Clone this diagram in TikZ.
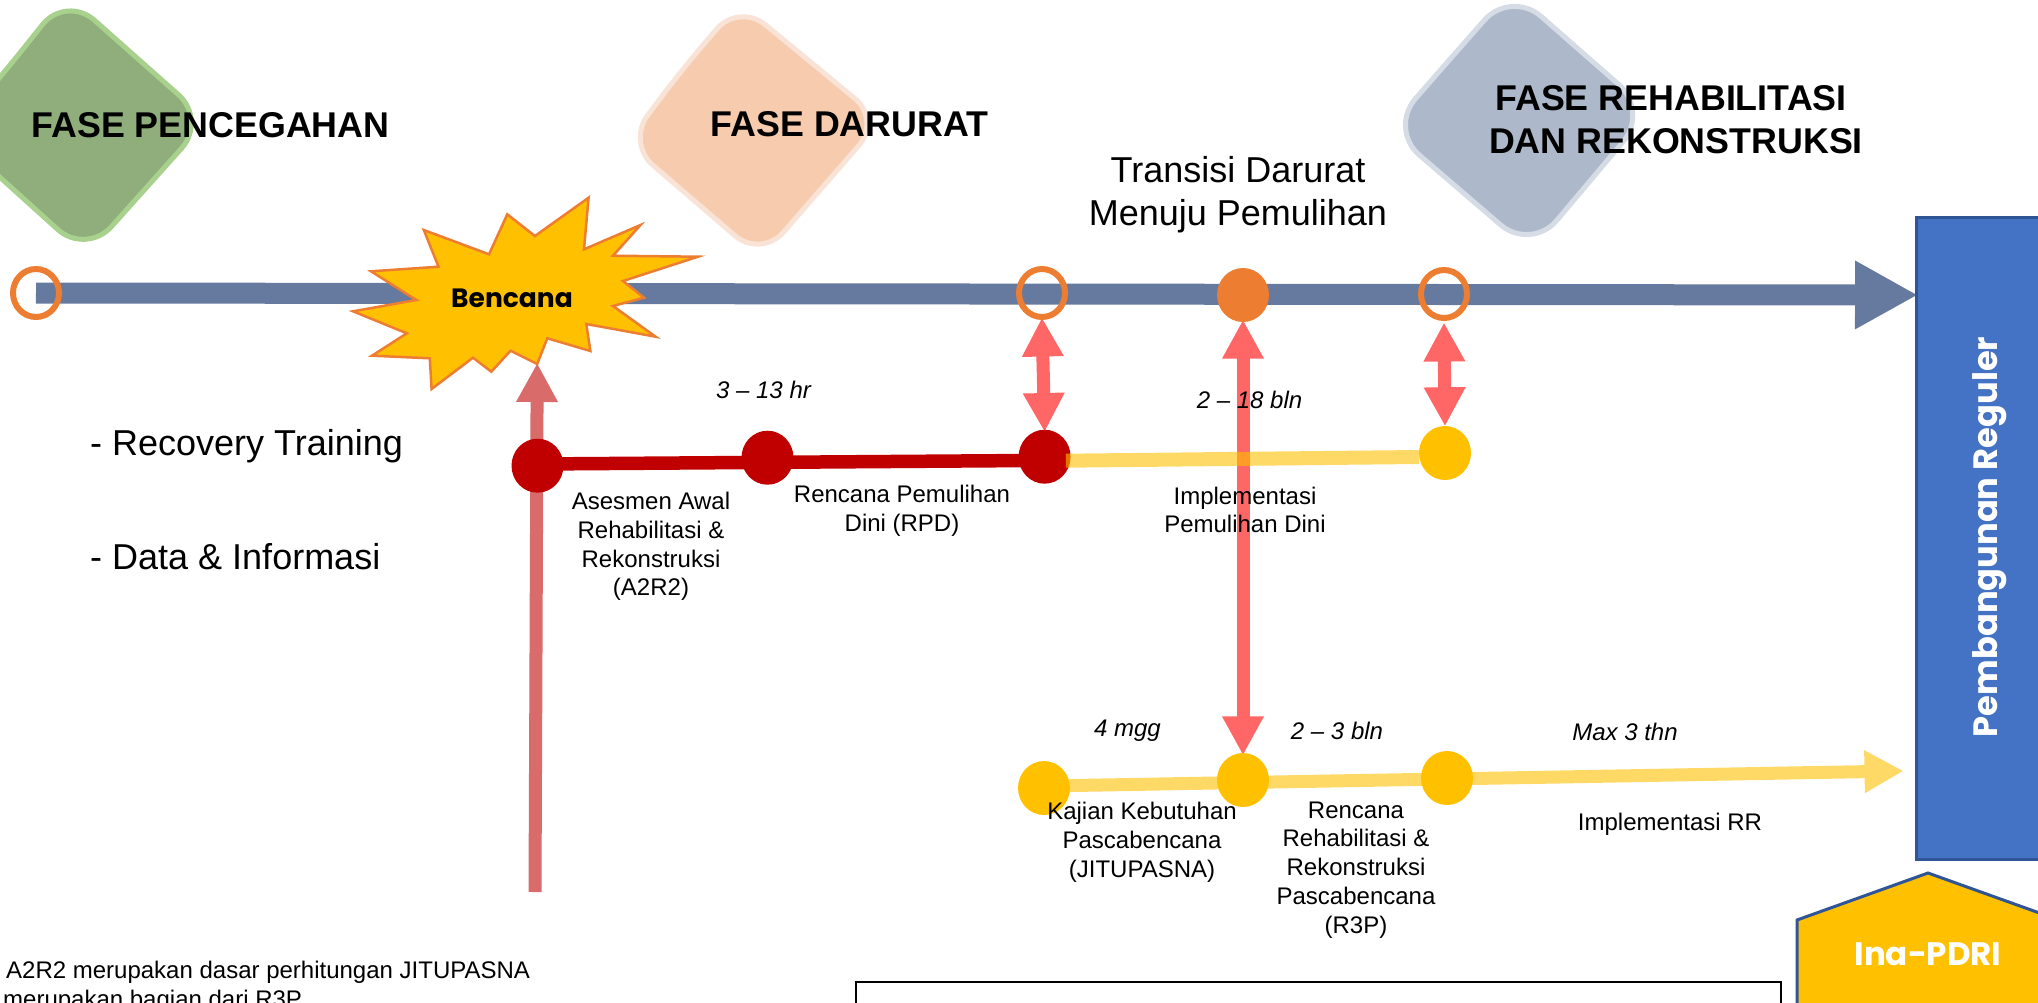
\documentclass[tikz,border=0pt]{standalone}
\usepackage{fontspec}
\setmainfont{Liberation Sans}
\newfontfamily\gothicfont{Poppins}
\usetikzlibrary{arrows.meta,shapes.geometric}
\definecolor{axisblue}{HTML}{667A9F}
\definecolor{ringorange}{HTML}{ED7D31}
\definecolor{darkred}{HTML}{C00000}
\definecolor{gold}{HTML}{FFC000}
\definecolor{softgold}{HTML}{FFD966}
\definecolor{softred}{HTML}{FF6666}
\definecolor{dullred}{HTML}{D96B6B}
\definecolor{boxblue}{HTML}{4472C4}
\definecolor{edgeblue}{HTML}{2F5597}
\definecolor{greenfill}{HTML}{8FAE7C}
\definecolor{greenedge}{HTML}{A9D18E}
\definecolor{peachfill}{HTML}{F6CBAE}
\definecolor{peachedge}{HTML}{F9E3D6}
\definecolor{slatefill}{HTML}{ADB9CA}
\definecolor{slateedge}{HTML}{D6DCE5}
\pgfdeclarelayer{back}
\pgfdeclarelayer{low}
\pgfdeclarelayer{mid}
\pgfsetlayers{back,low,mid,main}
\tikzset{
  phase/.style={line width=5pt,rounded corners=38pt,line join=round},
  ringnode/.style={ellipse,draw=ringorange,line width=6pt,minimum width=46pt,minimum height=48pt,inner sep=0pt},
  dotnode/.style={ellipse,minimum width=52pt,minimum height=54pt,inner sep=0pt},
  body/.style={font=\fontsize{24}{28.8}\selectfont,align=center,inner sep=0pt},
  timing/.style={font=\fontsize{24}{28.8}\selectfont\itshape,inner sep=0pt},
  title/.style={font=\fontsize{35.8}{43}\selectfont\bfseries,align=center,inner sep=0pt},
  big/.style={font=\fontsize{36}{43}\selectfont,align=center,inner sep=0pt},
  fatdouble/.style={softred,line width=13pt,shorten <=-2.5pt,shorten >=-2.5pt,{Triangle[width=39pt,length=39pt]}-{Triangle[width=39pt,length=39pt]}},
}
\begin{document}
\begin{tikzpicture}[x=1pt,y=-1pt]
\useasboundingbox (0,0) rectangle (2038,1002);
\begin{pgfonlayer}{low}
\node[ringnode] (r1) at (36,293) {};
\node[ringnode] (r2) at (1042,293) {};
\node[dotnode,fill=ringorange] (o1) at (1243,295) {};
\node[ringnode] (r3) at (1444,294) {};
\node[dotnode,fill=darkred] (a1) at (537.5,465.7) {};
\node[dotnode,fill=darkred] (a2) at (767.5,457.7) {};
\node[dotnode,fill=darkred] (a3) at (1044.6,456.7) {};
\end{pgfonlayer}
\node[dotnode,fill=gold] (a4) at (1445,453) {};
\node[dotnode,fill=gold] (b1) at (1044,788) {};
\node[dotnode,fill=gold] (b2) at (1243,780) {};
\node[dotnode,fill=gold] (b3) at (1447,778) {};
\coordinate (axisEnd) at (1916,295);
\coordinate (bEnd) at (1902,771);
\coordinate (starTip) at (537.2,364);
\coordinate (upStart) at (535,892);
\begin{pgfonlayer}{back}
\draw[phase,fill=greenfill,draw=greenedge]
  (8,68) -- (66,-5) -- (207,120) -- (86,255) -- (-48,134) -- cycle;
\draw[phase,rounded corners=34pt,fill=peachfill,draw=peachedge]
  (680,72) -- (739,3) -- (881,120) -- (761,258) -- (627,143) -- cycle;
\draw[phase,rounded corners=40pt,fill=slatefill,draw=slateedge]
  (1450,59) -- (1511,-10) -- (1649,111) -- (1531,251) -- (1389,129) -- cycle;
\draw[axisblue,line width=21pt,shorten >=-2pt,-{Triangle[width=64pt,length=63pt]}] (r1.center) -- (axisEnd);
\draw[ringorange,fill=gold,line width=2.5pt]
  (588.6,197.7) -- (584,249.3) -- (640.5,225) -- (613,255.7) -- (698,256.7) -- (623,281) -- (644,297.7) -- (613,306)
  -- (655.6,336.7) -- (586.3,324) -- (590.4,351) -- (547.3,338.3) -- (537.2,364) -- (510.6,350.7) -- (491.3,371.7)
  -- (473,357.7) -- (431.6,389) -- (429.8,358.3) -- (372,355.7) -- (406.8,333.3) -- (353,311.3) -- (416.4,300)
  -- (371,271.3) -- (438.5,266.7) -- (423.8,230) -- (489,254.3) -- (507.3,214.3) -- (534.9,236) -- cycle;
\draw[dullred,line width=13pt,shorten >=-1pt,-{Triangle[width=39pt,length=39pt]}] (upStart) -- (starTip);
\draw[fatdouble] (r2.south) -- (a3.north);
\draw[fatdouble] ([yshift=-4pt]r3.south) -- ([yshift=2pt]a4.north);
\draw[fatdouble] (o1.south) -- (b2.north);
\draw[darkred,line width=13.5pt] ([yshift=1.7pt]a1.center) -- ([yshift=-3.7pt]a3.center);
\draw[softgold,line width=13pt,shorten >=-1.5pt,-{Triangle[width=40pt,length=39pt]}] ([yshift=2pt]b1.center) -- (bEnd);
\end{pgfonlayer}
\begin{pgfonlayer}{mid}
\draw[gold,opacity=0.6,line width=14pt] ([xshift=-5pt,yshift=-4pt]a3.east) -- ([yshift=-4pt]a4.west);
\end{pgfonlayer}
\node[rectangle,draw=edgeblue,fill=boxblue,line width=3pt,minimum width=200pt,minimum height=642pt,inner sep=0pt] (regbox) at (2016,538) {};
\draw[edgeblue,fill=gold,line width=3pt] (1797,1040) -- (1797,920) -- (1928,873) -- (2059,920) -- (2059,1040) -- cycle;
\draw[black,line width=2pt] (856,1040) -- (856,982) -- (1781,982) -- (1781,1040);
\node[title] (t1) at (210.5,125) {FASE PENCEGAHAN};
\node[title] (t2) at (849.5,124) {FASE DARURAT};
\node[title] (t3) at (1671,119.5) {FASE REHABILITASI\\\ DAN REKONSTRUKSI};
\node[big] (trans) at (1238,194.5) {Transisi Darurat\\Menuju Pemulihan};
\node[font=\gothicfont\bfseries\fontsize{26.5}{30}\selectfont,inner sep=0pt] (benc) at (512,298) {Bencana};
\node[big,anchor=base west] (rec) at (90,455) {- Recovery Training};
\node[big,anchor=base west] (data) at (90,569) {- Data \& Informasi};
\node[timing] (l1) at (763.5,390) {3 – 13 hr};
\node[timing] (l2) at (1249.5,400) {2 – 18 bln};
\node[timing] (l3) at (1127.5,731) {4 mgg};
\node[timing] (l4) at (1337,731) {2 – 3 bln};
\node[timing] (l5) at (1625,732) {Max 3 thn};
\node[body] (x1) at (651,546.5) {Asesmen Awal\\Rehabilitasi \&\\Rekonstruksi\\(A2R2)};
\node[body] (x2) at (902,511) {Rencana Pemulihan\\Dini (RPD)};
\node[body] (x3) at (1245,510) {Implementasi\\Pemulihan Dini};
\node[body] (x4) at (1142,842) {Kajian Kebutuhan\\Pascabencana\\(JITUPASNA)};
\node[body] (x5) at (1356,870) {Rencana\\Rehabilitasi \&\\Rekonstruksi\\Pascabencana\\(R3P)};
\node[body] (x6) at (1670,824) {Implementasi RR};
\node[body,anchor=base west] (n1) at (6,978) {A2R2 merupakan dasar perhitungan JITUPASNA};
\node[body,anchor=base west] (n2) at (3,1007) {merupakan bagian dari R3P};
\node[font=\gothicfont\bfseries\fontsize{32.5}{40}\selectfont,text=white,inner sep=0pt] (ina) at (1928,954) {Ina-PDRI};
\node[font=\gothicfont\bfseries\fontsize{33.7}{40}\selectfont,text=white,inner sep=0pt,rotate=90,anchor=base] (reg) at (1997,537) {Pembangunan Reguler};
\end{tikzpicture}
\end{document}
